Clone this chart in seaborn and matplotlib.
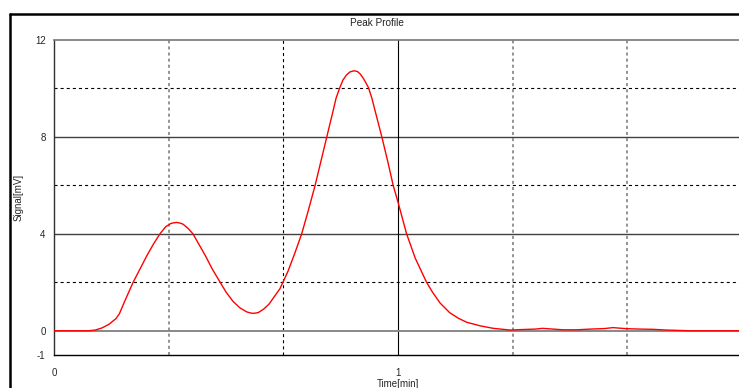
import matplotlib
matplotlib.use("Agg")
import matplotlib.pyplot as plt
from matplotlib.lines import Line2D
import seaborn as sns
import pandas as pd

# values
time_min = [0.0, 0.10, 0.12, 0.14, 0.16, 0.18, 0.19, 0.205, 0.23, 0.25, 0.27, 0.29,
            0.308, 0.325, 0.34, 0.35, 0.357, 0.365, 0.375, 0.39, 0.404, 0.42, 0.44,
            0.46, 0.483, 0.50, 0.52, 0.54, 0.56, 0.57, 0.578, 0.587, 0.595, 0.61,
            0.625, 0.64, 0.657, 0.68, 0.70, 0.72, 0.74, 0.759, 0.776, 0.793, 0.81,
            0.82, 0.831, 0.84, 0.85, 0.86, 0.872, 0.882, 0.89, 0.90, 0.914, 0.924,
            0.933, 0.953, 0.97, 0.986, 1.0, 1.025, 1.05, 1.083, 1.10, 1.122,
            1.15, 1.175, 1.2, 1.24, 1.277, 1.326, 1.36, 1.40, 1.42, 1.44, 1.48,
            1.52, 1.56, 1.60, 1.625, 1.66, 1.70, 1.74, 1.78, 1.85, 2.0]
signal_mv = [0.0, 0.0, 0.03, 0.12, 0.27, 0.5, 0.7, 1.2, 2.0, 2.55, 3.1, 3.6,
             4.0, 4.3, 4.43, 4.46, 4.47, 4.45, 4.4, 4.22, 4.0, 3.6, 3.1,
             2.55, 2.0, 1.6, 1.22, 0.95, 0.78, 0.74, 0.72, 0.73, 0.76, 0.9,
             1.1, 1.4, 1.74, 2.45, 3.2, 4.0, 5.0, 6.0, 7.0, 8.0, 9.0,
             9.6, 10.04, 10.35, 10.55, 10.68, 10.73, 10.7, 10.6, 10.4, 10.04, 9.6,
             9.1, 8.0, 7.0, 6.0, 5.31, 4.0, 3.0, 2.0, 1.6, 1.15,
             0.75, 0.52, 0.35, 0.2, 0.1, 0.03, 0.05, 0.07, 0.1, 0.08, 0.04,
             0.04, 0.07, 0.09, 0.13, 0.09, 0.07, 0.06, 0.03, 0.0, 0.0]

y_ticks = [-1, 0, 4, 8, 12]
x_ticks = [0, 1]
grid_h_solid = [4, 8]
grid_h_dashed = [2, 6, 10]
grid_v_dashed = [1 / 3, 2 / 3, 4 / 3, 5 / 3]
grid_v_solid = [1]

sns.set_style("white")
plt.rcParams["font.family"] = ["Liberation Sans", "DejaVu Sans"]
plt.rcParams["lines.scale_dashes"] = False

df = pd.DataFrame({"Time[min]": time_min, "Signal[mV]": signal_mv})

fig = plt.figure(figsize=(7.39, 3.88), dpi=100)
# plot area runs a little past the right edge of the picture, like the reference
ax = fig.add_axes([54 / 739, 33 / 388, 688 / 739, 315 / 388])

dash = (0, (2.2, 2.2))
for v in grid_h_dashed:
    ax.axhline(v, color="black", lw=0.8, ls=dash, zorder=1)
for v in grid_h_solid:
    ax.axhline(v, color="#404040", lw=1.0, zorder=1)
for i, v in enumerate(grid_v_dashed):
    ax.axvline(v, color="black" if i == 1 else "#777777", lw=0.8 if i == 1 else 1.1,
               ls=dash, zorder=1)
for v in grid_v_solid:
    ax.axvline(v, color="black", lw=0.8, zorder=1)
ax.axhline(0, color="#888888", lw=1.4, zorder=1)

sns.lineplot(data=df, x="Time[min]", y="Signal[mV]", color="#ff0000", lw=1.0,
             sort=False, estimator=None, ax=ax, zorder=3)

ax.set_xlim(0, 2)
ax.set_ylim(-1, 12)
ax.set_yticks(y_ticks)
ax.set_yticklabels([str(t) for t in y_ticks])
ax.set_xticks(x_ticks)
ax.set_xticklabels([str(t) for t in x_ticks])
ax.tick_params(axis="y", length=3, width=0.8, pad=3, labelsize=7, color="black")
ax.tick_params(axis="x", length=0, pad=9, labelsize=7)

for side, col, w in [("left", "#303030", 1.0), ("bottom", "black", 1.0),
                     ("top", "#777777", 1.2), ("right", "black", 1.0)]:
    ax.spines[side].set_color(col)
    ax.spines[side].set_linewidth(w)

ax.set_xlabel("Time[min]", fontsize=7)
ax.set_ylabel("Signal[mV]", fontsize=7)
ax.xaxis.set_label_coords(0.5, -0.076)
ax.yaxis.set_label_coords(-0.0436, 0.5)

fig.text(377 / 739, 1 - 23 / 388, "Peak Profile", fontsize=7.2, ha="center", va="center",
         color="#222222")

# outer frame (top and left edges visible in the reference)
fig.add_artist(Line2D([10 / 739, 1.0], [1 - 14 / 388, 1 - 14 / 388], color="black",
                      lw=1.8, transform=fig.transFigure))
fig.add_artist(Line2D([10 / 739, 10 / 739], [0.0, 1 - 14 / 388], color="black",
                      lw=1.8, transform=fig.transFigure))

fig.savefig("out.png", dpi=100)
